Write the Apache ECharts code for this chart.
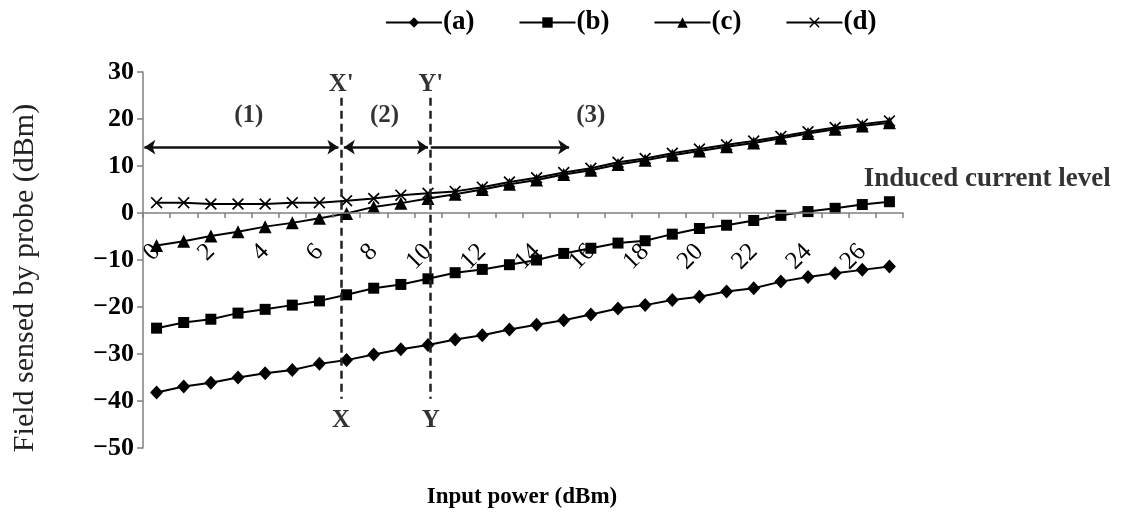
<!DOCTYPE html>
<html>
<head>
<meta charset="utf-8">
<script src="https://cdn.jsdelivr.net/npm/echarts@6/dist/echarts.min.js"></script>
<style>
  html, body { margin: 0; padding: 0; background: #fff; }
  #chart { width: 1127px; height: 516px; }
</style>
</head>
<body>
<div id="chart"></div>
<script>
// Input power steps (dBm) on the category axis
const categories = ['0','1','2','3','4','5','6','7','8','9','10','11','12','13',
  '14','15','16','17','18','19','20','21','22','23','24','25','26','27'];

// Field sensed by probe (dBm) for the four cases
const seriesA = [-38.2,-36.9,-36.1,-35.0,-34.1,-33.4,-32.1,-31.3,-30.1,-29.0,-28.1,-26.9,-26.0,-24.8,
  -23.8,-22.8,-21.6,-20.3,-19.6,-18.5,-17.8,-16.7,-16.0,-14.6,-13.6,-12.8,-12.1,-11.4];
const seriesB = [-24.5,-23.3,-22.6,-21.3,-20.5,-19.6,-18.7,-17.4,-16.0,-15.2,-14.0,-12.7,-12.0,-11.0,
  -10.0,-8.6,-7.5,-6.4,-5.9,-4.5,-3.3,-2.6,-1.6,-0.5,0.3,1.0,1.8,2.4];
const seriesC = [-6.9,-6.0,-4.9,-4.0,-2.9,-2.1,-1.1,-0.1,1.3,2.1,3.1,4.0,5.0,6.1,
  7.0,8.2,9.1,10.3,11.2,12.3,13.2,14.1,14.9,15.9,16.9,17.8,18.5,19.2];
const seriesD = [2.2,2.2,1.9,1.9,1.9,2.2,2.2,2.6,3.1,3.8,4.2,4.6,5.5,6.6,
  7.5,8.6,9.5,10.8,11.6,12.7,13.6,14.5,15.3,16.3,17.3,18.2,18.9,19.6];
const seriesNames = ['(a)', '(b)', '(c)', '(d)'];

// Y axis ticks
const yMin = -50, yMax = 30, yStep = 10;

// Region boundaries and levels (x in category index units, y in dBm)
const boundaryX = 6.8, boundaryY = 10.1;
const inducedLevel = 2.6;
const regionArrowLevel = 14.0;

const SERIF = '"Liberation Serif", "Times New Roman", serif';
const crossPath = 'path://M0,1 L1,0 L5,4 L9,0 L10,1 L6,5 L10,9 L9,10 L5,6 L1,10 L0,9 L4,5 Z';

// plot area
const gridTop = 72, gridBottom = 68, chartHeight = 516;
const plotHeight = chartHeight - gridTop - gridBottom;
// lift the category axis (line, ticks, labels) up to the 0 dBm level
const zeroOffset = -(0 - yMin) / (yMax - yMin) * plotHeight;

function mkLine(name, data, symbol, size) {
  return {
    name: name, type: 'line', data: data,
    symbol: symbol, symbolSize: size, showAllSymbol: true,
    lineStyle: { color: '#000', width: 2 },
    itemStyle: { color: '#000' },
    emphasis: { disabled: true },
    z: 3
  };
}

const chart = echarts.init(document.getElementById('chart'), null, { renderer: 'canvas' });

const dashStyle = { color: '#222', width: 2.5, type: [8, 5] };
const arrowStyle = { color: '#111', width: 2.5, type: 'solid' };

const option = {
  animation: false,
  backgroundColor: '#fff',
  textStyle: { fontFamily: SERIF, color: '#000' },
  legend: {
    top: 4, left: 380, itemGap: 44, itemWidth: 56, itemHeight: 13,
    data: seriesNames,
    textStyle: { fontFamily: SERIF, fontSize: 27, fontWeight: 'bold', color: '#000', padding: [0, 0, 0, -4] }
  },
  grid: { left: 143, right: 224, top: gridTop, bottom: gridBottom, containLabel: false },
  xAxis: [{
    type: 'category', data: categories, boundaryGap: true,
    position: 'bottom', offset: zeroOffset, z: 5,
    axisLine: { onZero: false, lineStyle: { color: '#808080', width: 1.5 } },
    axisTick: { show: true, interval: 0, length: 5, lineStyle: { color: '#808080', width: 1.5 } },
    axisLabel: { interval: 1, rotate: 45, margin: 35, fontFamily: SERIF, fontSize: 25, color: '#000' },
    splitLine: { show: false }
  }, {
    // helper axis for annotations, aligned with category centres
    type: 'value', min: -0.5, max: 27.5, show: false
  }],
  yAxis: {
    type: 'value', min: yMin, max: yMax, interval: yStep,
    axisLine: { show: true, onZero: false, lineStyle: { color: '#808080', width: 1.5 } },
    axisTick: { show: true, length: 6, lineStyle: { color: '#808080', width: 1.5 } },
    splitLine: { show: false },
    axisLabel: {
      margin: 9, fontFamily: SERIF, fontSize: 26, fontWeight: 'bold', color: '#000',
      formatter: v => String(v).replace('-', '\u2212')
    }
  },
  graphic: [{
    type: 'text', x: 25, y: 278, rotation: Math.PI / 2,
    style: { text: 'Field sensed by probe (dBm)', font: '30px ' + SERIF, fill: '#222',
      align: 'center', verticalAlign: 'middle' }
  }, {
    type: 'text', x: 522, y: 497,
    style: { text: 'Input power (dBm)', font: 'bold 23px ' + SERIF, fill: '#000',
      align: 'center', verticalAlign: 'middle' }
  }],
  series: [
    mkLine(seriesNames[0], seriesA, 'diamond', [13, 14]),
    mkLine(seriesNames[1], seriesB, 'rect', 11),
    mkLine(seriesNames[2], seriesC, 'triangle', 13),
    mkLine(seriesNames[3], seriesD, crossPath, 12),
    {
      // boundaries, region arrows and the induced current level
      type: 'line', xAxisIndex: 1, data: [], clip: false, silent: true,
      markLine: {
        silent: true, animation: false, symbolSize: 11,
        label: { show: false },
        emphasis: { disabled: true },
        data: [
          [{ coord: [boundaryX, 24.5], symbol: 'none', lineStyle: dashStyle }, { coord: [boundaryX, -39.5], symbol: 'none' }],
          [{ coord: [boundaryY, 24.5], symbol: 'none', lineStyle: dashStyle }, { coord: [boundaryY, -39.5], symbol: 'none' }],
          [{ coord: [boundaryY, inducedLevel], symbol: 'none', lineStyle: { color: '#222', width: 2, type: [6, 4] } },
           { coord: [35.3, inducedLevel], symbol: 'none' }],
          [{ coord: [-0.45, regionArrowLevel], symbol: 'arrow', lineStyle: arrowStyle }, { coord: [boundaryX - 0.1, regionArrowLevel], symbol: 'arrow' }],
          [{ coord: [boundaryX + 0.1, regionArrowLevel], symbol: 'arrow', lineStyle: arrowStyle }, { coord: [boundaryY - 0.1, regionArrowLevel], symbol: 'arrow' }],
          [{ coord: [boundaryY, regionArrowLevel], symbol: 'none', lineStyle: arrowStyle }, { coord: [15.2, regionArrowLevel], symbol: 'arrow' }]
        ]
      }
    },
    {
      // annotation texts
      type: 'scatter', xAxisIndex: 1, symbolSize: 0, clip: false, silent: true,
      label: { show: true, position: 'inside', formatter: p => p.data.name,
        fontFamily: SERIF, fontSize: 25, fontWeight: 'bold', color: '#000' },
      data: [
        { name: "X'", value: [boundaryX, 27.3] },
        { name: "Y'", value: [boundaryY, 27.3] },
        { name: 'X', value: [boundaryX, -44.2] },
        { name: 'Y', value: [boundaryY, -44.2] },
        { name: '(1)', value: [3.4, 20.8] },
        { name: '(2)', value: [8.4, 20.8] },
        { name: '(3)', value: [16.0, 20.8] },
        { name: 'Induced current level', value: [30.6, 7.3],
          label: { fontSize: 27 } }
      ]
    }
  ]
};

chart.setOption(option);
</script>
</body>
</html>
